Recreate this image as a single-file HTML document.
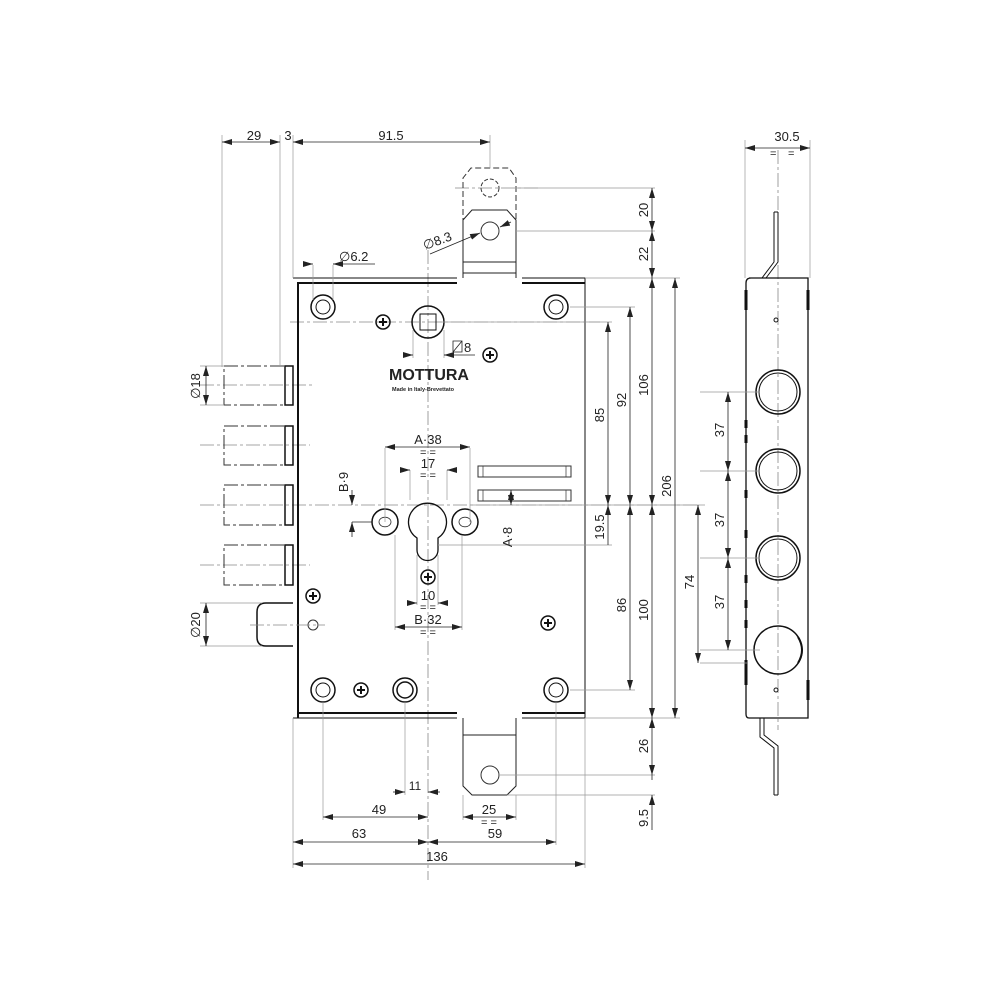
<!DOCTYPE html>
<html><head><meta charset="utf-8"><style>
html,body{margin:0;padding:0;background:#fff}
svg{display:block}
text{font-family:"Liberation Sans",sans-serif;font-size:13px;fill:#222}
.s{font-size:11px}
</style></head><body>
<svg width="1000" height="1000" viewBox="0 0 1000 1000" xmlns="http://www.w3.org/2000/svg">
<defs>
<marker id="a" viewBox="0 0 10 6" refX="10" refY="3" markerWidth="10" markerHeight="6" orient="auto-start-reverse" markerUnits="userSpaceOnUse"><path d="M0,0 L10,3 L0,6 z" fill="#222"/></marker>
</defs>
<g fill="none" stroke="#333">
<g stroke="#888" stroke-width="0.8" stroke-dasharray="14 3 3 3">
<line x1="428" y1="250" x2="428" y2="880"/>
<line x1="290" y1="322" x2="600" y2="322"/>
<line x1="200" y1="505" x2="700" y2="505"/>
<line x1="200" y1="445" x2="310" y2="445"/>
<line x1="200" y1="385" x2="315" y2="385"/>
<line x1="200" y1="565" x2="310" y2="565"/>
<line x1="778" y1="150" x2="778" y2="730"/>
<line x1="455" y1="188" x2="540" y2="188"/>
</g>
<g stroke="#111">
<path d="M293,278 H457 M522,278 H585 V718 H522 M457,718 H293 Z" stroke-width="1"/>
<path d="M298,718 V283 H457 M522,283 H585 M298,713 H457 M522,713 H585" stroke-width="2"/>
</g>
<path d="M463,278 V178 L471,168 H509 L516,178 V278" stroke-dasharray="6 3"/>
<circle cx="490" cy="188" r="9" stroke-dasharray="4 2"/>
<path d="M463,278 V220 L472,210 H507 L516,220 V278 M463,262 H516 M463,273 H516" stroke="#222"/>
<circle cx="490" cy="231" r="9"/>
<path d="M463,718 V786 L472,795 H507 L516,786 V718 M463,735 H516" stroke="#222"/>
<circle cx="490" cy="775" r="9"/>
<g stroke="#111" stroke-width="1.5">
<circle cx="323" cy="307" r="12"/><circle cx="323" cy="307" r="7" stroke-width="1"/>
<circle cx="556" cy="307" r="12"/><circle cx="556" cy="307" r="7" stroke-width="1"/>
<circle cx="323" cy="690" r="12"/><circle cx="323" cy="690" r="7" stroke-width="1"/>
<circle cx="405" cy="690" r="12"/><circle cx="405" cy="690" r="8" stroke-width="1.5"/>
<circle cx="556" cy="690" r="12"/><circle cx="556" cy="690" r="7" stroke-width="1"/>
<circle cx="428" cy="322" r="16"/>
<rect x="420" y="314" width="16" height="16" stroke-width="1"/>
</g>
<g stroke="#111" stroke-width="1.5">
<circle cx="383" cy="322" r="7"/><circle cx="490" cy="355" r="7"/><circle cx="361" cy="690" r="7"/>
<circle cx="313" cy="596" r="7"/><circle cx="428" cy="577" r="7"/><circle cx="548" cy="623" r="7"/>
</g>
<g stroke="#111" stroke-width="2">
<path d="M379,322h8M383,318v8 M486,355h8M490,351v8 M357,690h8M361,686v8 M309,596h8M313,592v8 M424,577h8M428,573v8 M544,623h8M548,619v8"/>
</g>
<path d="M417,538 A19,19 0 1 1 438,538 V550 A10.5,10.5 0 0 1 417,550 Z" stroke="#111" stroke-width="1.3"/>
<circle cx="385" cy="522" r="13" stroke="#111" stroke-width="1.5"/>
<circle cx="465" cy="522" r="13" stroke="#111" stroke-width="1.5"/>
<path d="M379,522 a5,4 0 1 1 12,0 a5,4 0 1 1 -12,0 M459,522 a5,4 0 1 1 12,0 a5,4 0 1 1 -12,0" stroke-width="0.8"/>
<rect x="478" y="466" width="93" height="11"/>
<rect x="478" y="490" width="93" height="11"/>
<path d="M483,466v11 M566,466v11 M483,490v11 M566,490v11" stroke-width="0.7"/>
<g stroke-width="1">
<path d="M284,366 H224 V405 H284" stroke-dasharray="14 3 3 3"/>
<path d="M284,426 H224 V465 H284" stroke-dasharray="14 3 3 3"/>
<path d="M284,485 H224 V525 H284" stroke-dasharray="14 3 3 3"/>
<path d="M284,545 H224 V585 H284" stroke-dasharray="14 3 3 3"/>
<path d="M285,366h8v39h-8z M285,426h8v39h-8z M285,485h8v40h-8z M285,545h8v40h-8z" stroke="#111" stroke-width="1.5"/>
<path d="M293,603 H266 Q257,603 257,612 V637 Q257,646 266,646 H293" stroke="#111" stroke-width="1.5"/>
<circle cx="313" cy="625" r="5"/>
<line x1="250" y1="625" x2="325" y2="625" stroke="#888" stroke-dasharray="14 3 3 3" stroke-width="0.8"/>
</g>
<g stroke="#111">
<path d="M749,278 H808 V718 H749 Q746,718 746,714 V283 Q746,278 751,278 Z" stroke-width="1.3"/>
<path d="M774,212 V262 L762,278 M778,212 V262 L766,278 M774,212 H778" stroke-width="1"/>
<path d="M760,718 V737 L774,748 V795 M764,718 V735 L778,746 V795 M774,795 H778" stroke-width="1"/>
<circle cx="778" cy="392" r="22" stroke-width="1.5"/><circle cx="778" cy="392" r="19"/>
<circle cx="778" cy="471" r="22" stroke-width="1.5"/><circle cx="778" cy="471" r="19"/>
<circle cx="778" cy="558" r="22" stroke-width="1.5"/><circle cx="778" cy="558" r="19"/>
<circle cx="778" cy="650" r="24" stroke-width="1.5"/>
<path d="M798,637 Q806,650 798,663" stroke-width="2"/>
<circle cx="776" cy="320" r="2"/><circle cx="776" cy="690" r="2"/>
<path d="M746,290v20 M808,290v20 M746,660v25 M808,680v20 M746,420v8 M746,435v8 M746,490v8 M746,530v8 M746,575v8 M746,600v8 M746,620v8" stroke-width="3"/>
</g>
<g stroke="#999" stroke-width="0.7">
<path d="M222,135 V367 M280,135 V367 M293,135 V278 M490,135 V168"/>
<path d="M516,188 H655 M516,231 H655 M585,278 H680 M570,307 H635 M440,322 H612 M470,505 H705 M438,545 H612 M570,690 H635 M585,718 H680 M500,775 H655 M507,795 H655"/>
<path d="M323,702 V820 M405,702 V795 M556,702 V845 M293,718 V868 M585,718 V868 M463,795 V820 M516,795 V820"/>
<path d="M200,366 H224 M200,405 H224 M200,603 H262 M200,646 H262"/>
<path d="M385,448 V522 M470,448 V522 M410,470 V500 M447,470 V500 M395,535 V630 M462,535 V630 M417,555 V605 M438,555 V605 M333,265 V300 M313,265 V300 M413,330 V358 M444,330 V358"/>
<path d="M745,140 V278 M810,140 V278 M700,392 H760 M700,471 H760 M700,558 H760 M700,650 H760 M700,663 H748"/>
</g>
<g stroke="#222" stroke-width="0.8" marker-start="url(#a)" marker-end="url(#a)">
<line x1="222" y1="142" x2="280" y2="142"/>
<line x1="293" y1="142" x2="490" y2="142"/>
<line x1="652" y1="188" x2="652" y2="231"/>
<line x1="652" y1="231" x2="652" y2="278"/>
<line x1="652" y1="278" x2="652" y2="505"/>
<line x1="652" y1="505" x2="652" y2="718"/>
<line x1="652" y1="718" x2="652" y2="775"/>
<line x1="675" y1="278" x2="675" y2="718"/>
<line x1="608" y1="322" x2="608" y2="505"/>
<line x1="630" y1="307" x2="630" y2="505"/>
<line x1="630" y1="505" x2="630" y2="690"/>
<line x1="698" y1="505" x2="698" y2="663"/>
<line x1="728" y1="392" x2="728" y2="471"/>
<line x1="728" y1="471" x2="728" y2="558"/>
<line x1="728" y1="558" x2="728" y2="650"/>
<line x1="745" y1="148" x2="810" y2="148"/>
<line x1="206" y1="366" x2="206" y2="405"/>
<line x1="206" y1="603" x2="206" y2="646"/>
<line x1="385" y1="447" x2="470" y2="447"/>
<line x1="395" y1="627" x2="462" y2="627"/>
<line x1="323" y1="817" x2="428" y2="817"/>
<line x1="293" y1="842" x2="428" y2="842"/>
<line x1="428" y1="842" x2="556" y2="842"/>
<line x1="293" y1="864" x2="585" y2="864"/>
<line x1="463" y1="817" x2="516" y2="817"/>
</g>
<g stroke="#222" stroke-width="0.8">
<line x1="652" y1="775" x2="652" y2="780"/>
<line x1="652" y1="795" x2="652" y2="830" marker-start="url(#a)"/>
<line x1="608" y1="505" x2="608" y2="545" marker-start="url(#a)"/>
<line x1="306" y1="264" x2="313" y2="264" marker-end="url(#a)"/>
<line x1="340" y1="264" x2="333" y2="264" marker-end="url(#a)"/>
<line x1="333" y1="264" x2="375" y2="264"/>
<line x1="406" y1="355" x2="413" y2="355" marker-end="url(#a)"/>
<line x1="451" y1="355" x2="444" y2="355" marker-end="url(#a)"/>
<line x1="444" y1="355" x2="475" y2="355"/>
<line x1="403" y1="470" x2="410" y2="470" marker-end="url(#a)"/>
<line x1="454" y1="470" x2="447" y2="470" marker-end="url(#a)"/>
<line x1="410" y1="603" x2="417" y2="603" marker-end="url(#a)"/>
<line x1="445" y1="603" x2="438" y2="603" marker-end="url(#a)"/>
<line x1="393" y1="792" x2="405" y2="792" marker-end="url(#a)"/>
<line x1="440" y1="792" x2="428" y2="792" marker-end="url(#a)"/>
<line x1="352" y1="490" x2="352" y2="505" marker-end="url(#a)"/>
<line x1="352" y1="537" x2="352" y2="522" marker-end="url(#a)"/>
<line x1="352" y1="522" x2="372" y2="522"/>
<line x1="511" y1="490" x2="511" y2="505" marker-start="url(#a)" marker-end="url(#a)"/>
<line x1="430" y1="254" x2="480" y2="233" marker-end="url(#a)"/>
<line x1="511" y1="222" x2="500" y2="227" marker-end="url(#a)"/>
<path d="M453,341h9v11h-9z M453,352 L462,341" stroke-width="0.8"/>
</g>
</g>
<text x="254" y="140" text-anchor="middle">29</text>
<text x="288" y="140" text-anchor="middle">3</text>
<text x="391" y="140" text-anchor="middle">91.5</text>
<text x="787" y="141" text-anchor="middle">30.5</text>
<text x="770" y="157" class="s">=</text><text x="788" y="157" class="s">=</text>
<text x="339" y="261">∅6.2</text>
<text x="425" y="250" transform="rotate(-20 425 250)">∅8.3</text>
<text x="464" y="352">8</text>
<text x="389" y="380" style="font-weight:bold;font-size:16px">MOTTURA</text>
<text x="392" y="391" style="font-size:5.5px;font-weight:bold">Made in Italy-Brevettato</text>
<text x="428" y="444" text-anchor="middle">A·38</text>
<text x="428" y="456" text-anchor="middle" class="s">=  =</text>
<text x="428" y="468" text-anchor="middle">17</text>
<text x="428" y="479" text-anchor="middle" class="s">= =</text>
<text x="428" y="600" text-anchor="middle">10</text>
<text x="428" y="611" text-anchor="middle" class="s">= =</text>
<text x="428" y="624" text-anchor="middle">B·32</text>
<text x="428" y="636" text-anchor="middle" class="s">=  =</text>
<text x="415" y="790" text-anchor="middle" style="font-size:12px">11</text>
<text x="379" y="814" text-anchor="middle">49</text>
<text x="489" y="814" text-anchor="middle">25</text>
<text x="489" y="826" text-anchor="middle" class="s">=  =</text>
<text x="359" y="838" text-anchor="middle">63</text>
<text x="495" y="838" text-anchor="middle">59</text>
<text x="437" y="861" text-anchor="middle">136</text>
<g>
<text transform="translate(348,482) rotate(-90)" text-anchor="middle">B·9</text>
<text transform="translate(512,537) rotate(-90)" text-anchor="middle">A·8</text>
<text transform="translate(200,386) rotate(-90)" text-anchor="middle">∅18</text>
<text transform="translate(200,625) rotate(-90)" text-anchor="middle">∅20</text>
<text transform="translate(648,210) rotate(-90)" text-anchor="middle">20</text>
<text transform="translate(648,254) rotate(-90)" text-anchor="middle">22</text>
<text transform="translate(648,385) rotate(-90)" text-anchor="middle">106</text>
<text transform="translate(648,610) rotate(-90)" text-anchor="middle">100</text>
<text transform="translate(648,746) rotate(-90)" text-anchor="middle">26</text>
<text transform="translate(648,818) rotate(-90)" text-anchor="middle">9.5</text>
<text transform="translate(671,486) rotate(-90)" text-anchor="middle">206</text>
<text transform="translate(604,415) rotate(-90)" text-anchor="middle">85</text>
<text transform="translate(604,527) rotate(-90)" text-anchor="middle">19.5</text>
<text transform="translate(626,400) rotate(-90)" text-anchor="middle">92</text>
<text transform="translate(626,605) rotate(-90)" text-anchor="middle">86</text>
<text transform="translate(694,582) rotate(-90)" text-anchor="middle">74</text>
<text transform="translate(724,430) rotate(-90)" text-anchor="middle">37</text>
<text transform="translate(724,520) rotate(-90)" text-anchor="middle">37</text>
<text transform="translate(724,602) rotate(-90)" text-anchor="middle">37</text>
</g>
</svg>
</body></html>
